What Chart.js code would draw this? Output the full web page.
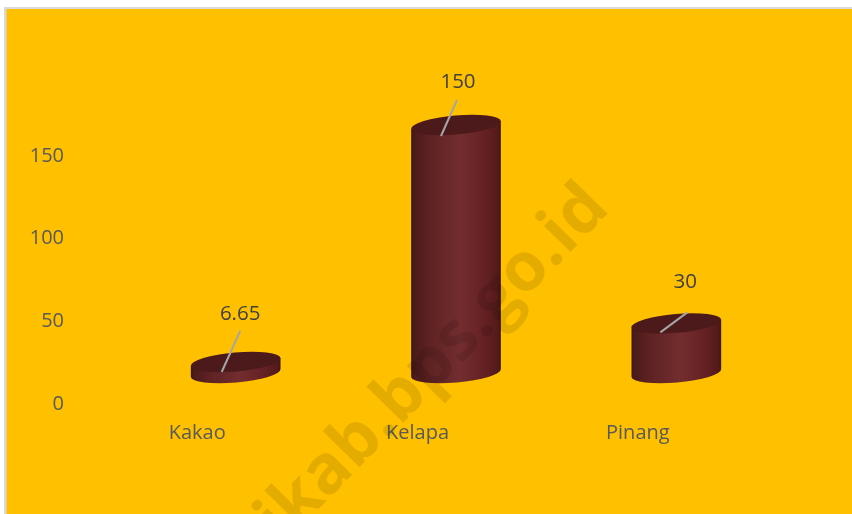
<!DOCTYPE html>
<html><head><meta charset="utf-8">
<style>html,body{margin:0;padding:0;background:#fff}#w{width:852px;height:514px;position:relative}</style>
<script src="https://cdn.jsdelivr.net/npm/chart.js@4"></script>
</head><body><div id="w"><canvas id="c"></canvas></div>
<script>
const categories = ["Kakao", "Kelapa", "Pinang"];
const values = [6.65, 150, 30];
const yTicks = [0, 50, 100, 150];

const FONT = '"Open Sans", "Noto Sans", sans-serif';
const DEPTH = {dx: 38.5, dy: -29};
const TILT = -5 * Math.PI / 180;
const RY = 9.5;
const CALLOUTS = [
  {label:[4.5,-47.5], from:[-14,10], to:[4.5,-31]},
  {label:[2,-43], from:[-15,11], to:[1,-25]},
  {label:[9,-41], from:[-16,9], to:[11,-11]}
];

const scene = {
  id: 'scene',
  beforeDraw(chart) {
    const {ctx, width, height} = chart;
    ctx.save();
    ctx.fillStyle = '#ffffff'; ctx.fillRect(0,0,width,height);
    ctx.fillStyle = '#d9d9d9'; ctx.fillRect(4,7,width,height);
    ctx.fillStyle = '#ffc000'; ctx.fillRect(6.5,9,width,height);
    ctx.restore();
  },
  afterDatasetsDraw(chart) {
    const {ctx} = chart;
    const bars = chart.getDatasetMeta(0).data;
    bars.forEach((bar, i) => {
      const p = bar.getProps(['x','y','base','width'], true);
      const cx = p.x + DEPTH.dx, top = p.y + DEPTH.dy, bot = p.base + DEPTH.dy;
      const a = p.width / 2;
      const ex = a * Math.cos(TILT), ey = a * Math.sin(TILT);
      const g = ctx.createLinearGradient(cx - a, 0, cx + a, 0);
      g.addColorStop(0, '#3a1414');
      g.addColorStop(0.03, '#4a1a1a');
      g.addColorStop(0.2, '#5e2223');
      g.addColorStop(0.55, '#732d2f');
      g.addColorStop(0.85, '#621f21');
      g.addColorStop(0.97, '#521a1b');
      g.addColorStop(1, '#3a1212');
      ctx.save();
      ctx.beginPath();
      ctx.moveTo(cx - ex, top - ey);
      ctx.lineTo(cx - ex, bot - ey);
      ctx.ellipse(cx, bot, a, RY, TILT, Math.PI, 0, true);
      ctx.lineTo(cx + ex, top + ey);
      ctx.closePath();
      ctx.fillStyle = g; ctx.fill();
      ctx.beginPath();
      ctx.ellipse(cx, top, a, RY, TILT, 0, Math.PI * 2);
      ctx.fillStyle = '#4d1a1b'; ctx.fill();
      const c = CALLOUTS[i];
      ctx.strokeStyle = '#a6a6a6'; ctx.lineWidth = 2;
      ctx.beginPath();
      ctx.moveTo(cx + c.from[0], top + c.from[1]);
      ctx.lineTo(cx + c.to[0], top + c.to[1]);
      ctx.stroke();
      ctx.fillStyle = '#404040';
      ctx.font = '20.5px ' + FONT;
      ctx.textAlign = 'center'; ctx.textBaseline = 'middle';
      ctx.fillText(String(values[i]), cx + c.label[0], top + c.label[1]);
      ctx.restore();
    });
  },
  afterDraw(chart) {
    const {ctx} = chart;
    ctx.save();
    ctx.translate(410, 388);
    ctx.rotate(-Math.PI / 4 - 0.01);
    ctx.fillStyle = 'rgba(0,0,0,0.1)';
    ctx.font = 'bold 68px ' + FONT;
    ctx.textAlign = 'center'; ctx.textBaseline = 'middle';
    ctx.fillText('mikab.bps.go.id', 0, 0);
    ctx.restore();
  }
};

new Chart(document.getElementById('c'), {
  type: 'bar',
  data: {
    labels: categories,
    datasets: [{data: values, backgroundColor: 'rgba(0,0,0,0)', barThickness: 90}]
  },
  plugins: [scene],
  options: {
    responsive: true, maintainAspectRatio: false, animation: false,
    layout: {padding: {top: 154, right: 104, left: 0, bottom: 0}},
    plugins: {legend: {display: false}, tooltip: {enabled: false}},
    scales: {
      x: {
        grid: {display: false}, border: {display: false},
        ticks: {color: '#595959', font: {family: FONT, size: 20}, padding: 11, maxRotation: 0},
        afterFit(s) { s.height = 112; }
      },
      y: {
        min: 0, max: 150,
        afterBuildTicks(s) { s.ticks = yTicks.map(v => ({value: v})); },
        grid: {display: false}, border: {display: false},
        ticks: {color: '#595959', font: {family: FONT, size: 20}, padding: 15, labelOffset: 2},
        afterFit(s) { s.width = 87; }
      }
    }
  }
});
</script></body></html>
